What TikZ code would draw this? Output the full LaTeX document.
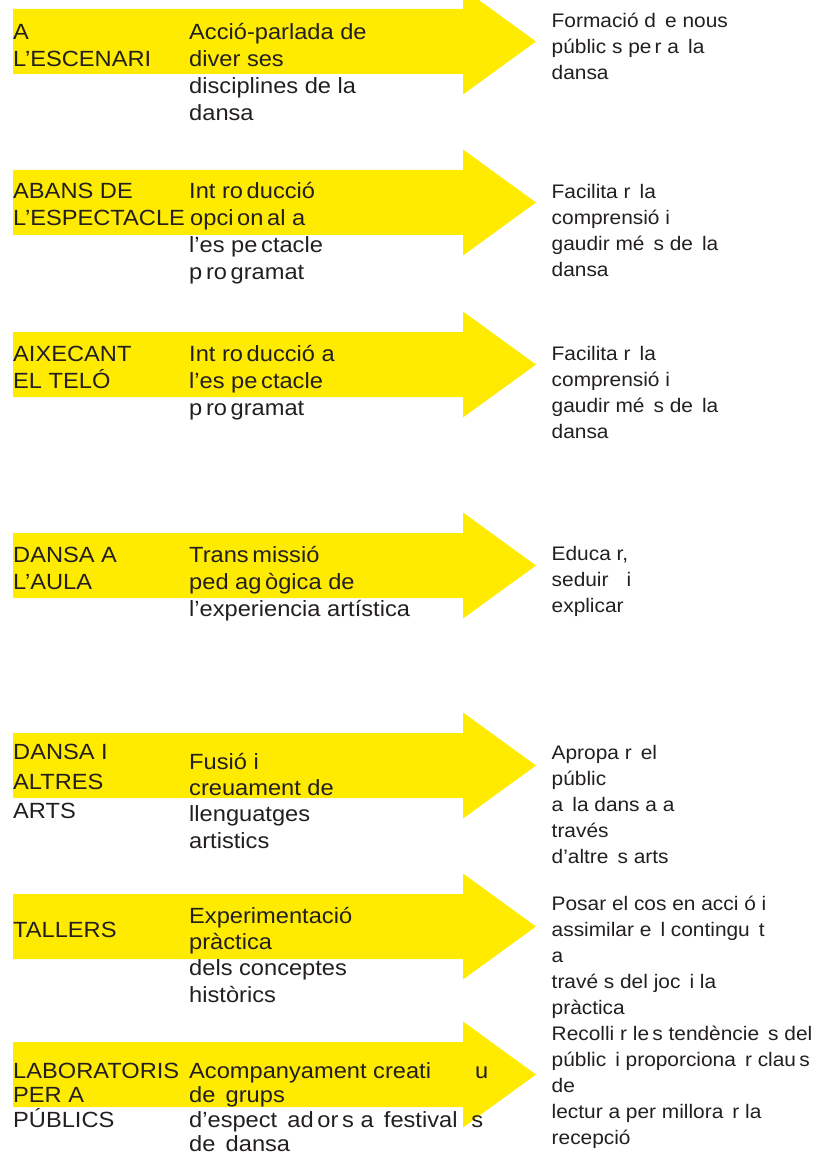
\documentclass[tikz,border=0pt]{standalone}
\usepackage{fontspec}
\setmainfont{Liberation Sans}
\newfontfamily\bigfam{Liberation Sans}[FakeStretch=1.075]
\newfontfamily\smallfam{Liberation Sans}[FakeStretch=1.065]
\definecolor{yel}{HTML}{FFEB00}
\definecolor{ink}{HTML}{231F20}
\newcommand\tb{\rule{0pt}{24pt}}
\newcommand\ts{\rule{0pt}{22pt}}
\tikzset{
  bigtxt/.style={anchor=north west, inner sep=0pt, align=left, text=ink,
    font=\bigfam\fontsize{22pt}{27pt}\selectfont},
  smalltxt/.style={anchor=north west, inner sep=0pt, align=left, text=ink,
    font=\smallfam\fontsize{19.6pt}{26pt}\selectfont},
  yarrow/.style={fill=yel, draw=none}
}
\newcommand\yarr[1]{%
  \fill[yarrow] (13,#1-32.5) -- (463,#1-32.5) -- (463,#1-53) -- (536,#1)
    -- (463,#1+53) -- (463,#1+32.5) -- (13,#1+32.5) -- cycle;}
% big text: node y = first baseline - 24 ; small text: first baseline - 22
\begin{document}
\begin{tikzpicture}[x=1pt,y=-1pt]
\useasboundingbox (0,0) rectangle (835,1155);
% arrows
\yarr{41.5}
\yarr{202.5}
\yarr{364.5}
\yarr{565.5}
\yarr{765.5}
\yarr{926.5}
\yarr{1074.5}
% row 1
\node[bigtxt] (l1) at (13,15) {\tb A\\L’ESCENARI};
\node[bigtxt] (m1) at (189,15) {\tb Acció-parlada de\\diver ses\\disciplines de la\\dansa};
\node[smalltxt] (r1) at (551.5,5) {\ts Formació d\, e nous\\públic s pe\,r a\, la\\dansa};
% row 2
\node[bigtxt] (l2) at (13,174.5) {\tb ABANS DE\\L’ESPECTACLE};
\node[bigtxt] (m2) at (189,174.5) {\tb Int ro\,ducció\\\hspace{1pt}opci\,on\,al a\\l’es pe\,ctacle\\p\,ro\,gramat};
\node[smalltxt] (r2) at (551.5,176) {\ts Facilita r\, la\\comprensió i\\gaudir mé\, s de\, la\\dansa};
% row 3
\node[bigtxt] (l3) at (13,337.5) {\tb AIXECANT\\EL TELÓ};
\node[bigtxt] (m3) at (189,337.5) {\tb Int ro\,ducció a\\l’es pe\,ctacle\\p\,ro\,gramat};
\node[smalltxt] (r3) at (551.5,338) {\ts Facilita r\, la\\comprensió i\\gaudir mé\, s de\, la\\dansa};
% row 4
\node[bigtxt] (l4) at (13,538) {\tb DANSA A\\L’AULA};
\node[bigtxt] (m4) at (189,538) {\tb Trans\,missió\\ped ag\,ògica de\\l’experiencia artística};
\node[smalltxt] (r4) at (551.5,538) {\ts Educa r,\\seduir\, \, i\\explicar};
% row 5
\node[bigtxt, font=\bigfam\fontsize{22pt}{29.5pt}\selectfont] (l5) at (13,735.5) {\tb DANSA I\\ALTRES\\ARTS};
\node[bigtxt, font=\bigfam\fontsize{22pt}{26.3pt}\selectfont] (m5) at (189,745) {\tb Fusió i\\creuament de\\llenguatges\\artistics};
\node[smalltxt] (r5) at (551.5,737) {\ts Apropa r\, el\\públic\\a\, la dans a a\\través\\d’altre\, s arts};
% row 6
\node[bigtxt] (l6) at (13,913) {\tb TALLERS};
\node[bigtxt, font=\bigfam\fontsize{22pt}{26.3pt}\selectfont] (m6) at (189,899) {\tb Experimentació\\pràctica\\dels conceptes\\històrics};
\node[smalltxt] (r6) at (551.5,888) {\ts Posar el cos en acci ó i\\assimilar e\, l contingu\, t\\a\\travé s del joc\, i la\\pràctica};
% row 7
\node[bigtxt, font=\bigfam\fontsize{22pt}{24.5pt}\selectfont] (l7) at (13,1054) {\tb LABORATORIS\\PER A\\PÚBLICS};
\node[bigtxt, font=\bigfam\fontsize{22pt}{24.5pt}\selectfont] (m7) at (189,1054) {\tb Acompanyament creati\hspace{44pt}u\\de\, grups\\d’espect\, ad\,or\,s a\, festival\, \,s\\de\, dansa};
\node[smalltxt] (r7) at (551.5,1018) {\ts Recolli r le\,s tendèncie\, s del\\públic\, i proporciona\, r clau\,s\\de\\lectur a per millora\, r la\\recepció};
\end{tikzpicture}
\end{document}
